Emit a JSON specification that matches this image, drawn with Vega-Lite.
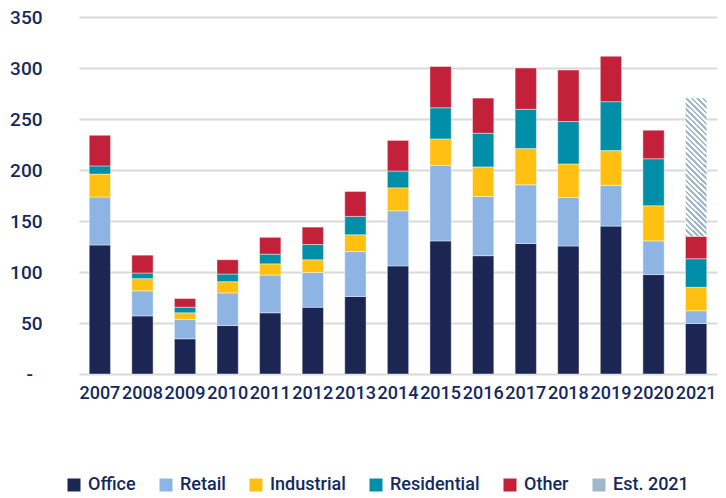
{
  "$schema": "https://vega.github.io/schema/vega-lite/v6.json",
  "width": 638,
  "height": 357,
  "autosize": {"type": "none"},
  "padding": {"left": 79, "top": 17, "right": 9, "bottom": 124},
  "background": "#ffffff",
  "config": {
    "font": "Roboto",
    "view": {"stroke": null},
    "axis": {"labelColor": "#14295e", "labelFont": "Roboto", "labelFontWeight": 500, "domain": false, "ticks": false, "tickSize": 0, "title": null},
    "legend": {"labelColor": "#14295e", "labelFont": "Roboto", "labelFontWeight": 500}
  },
  "data": {"values": [
    {"year":"2007","type":"Office","v":126.5,"k":1},{"year":"2007","type":"Retail","v":47,"k":2},{"year":"2007","type":"Industrial","v":22.5,"k":3},{"year":"2007","type":"Residential","v":8,"k":4},{"year":"2007","type":"Other","v":30,"k":5},
    {"year":"2008","type":"Office","v":57,"k":1},{"year":"2008","type":"Retail","v":24.5,"k":2},{"year":"2008","type":"Industrial","v":12,"k":3},{"year":"2008","type":"Residential","v":5.5,"k":4},{"year":"2008","type":"Other","v":17.5,"k":5},
    {"year":"2009","type":"Office","v":34.5,"k":1},{"year":"2009","type":"Retail","v":19,"k":2},{"year":"2009","type":"Industrial","v":6.5,"k":3},{"year":"2009","type":"Residential","v":5.5,"k":4},{"year":"2009","type":"Other","v":8.5,"k":5},
    {"year":"2010","type":"Office","v":47.5,"k":1},{"year":"2010","type":"Retail","v":32,"k":2},{"year":"2010","type":"Industrial","v":11,"k":3},{"year":"2010","type":"Residential","v":7.5,"k":4},{"year":"2010","type":"Other","v":14,"k":5},
    {"year":"2011","type":"Office","v":60,"k":1},{"year":"2011","type":"Retail","v":37,"k":2},{"year":"2011","type":"Industrial","v":11,"k":3},{"year":"2011","type":"Residential","v":9.5,"k":4},{"year":"2011","type":"Other","v":16.5,"k":5},
    {"year":"2012","type":"Office","v":65.5,"k":1},{"year":"2012","type":"Retail","v":34,"k":2},{"year":"2012","type":"Industrial","v":12.5,"k":3},{"year":"2012","type":"Residential","v":15,"k":4},{"year":"2012","type":"Other","v":17,"k":5},
    {"year":"2013","type":"Office","v":76,"k":1},{"year":"2013","type":"Retail","v":44,"k":2},{"year":"2013","type":"Industrial","v":16.5,"k":3},{"year":"2013","type":"Residential","v":18,"k":4},{"year":"2013","type":"Other","v":24.5,"k":5},
    {"year":"2014","type":"Office","v":106,"k":1},{"year":"2014","type":"Retail","v":54,"k":2},{"year":"2014","type":"Industrial","v":22.5,"k":3},{"year":"2014","type":"Residential","v":16.5,"k":4},{"year":"2014","type":"Other","v":30,"k":5},
    {"year":"2015","type":"Office","v":130.5,"k":1},{"year":"2015","type":"Retail","v":74,"k":2},{"year":"2015","type":"Industrial","v":26,"k":3},{"year":"2015","type":"Residential","v":30.5,"k":4},{"year":"2015","type":"Other","v":40.5,"k":5},
    {"year":"2016","type":"Office","v":116,"k":1},{"year":"2016","type":"Retail","v":58,"k":2},{"year":"2016","type":"Industrial","v":29,"k":3},{"year":"2016","type":"Residential","v":33,"k":4},{"year":"2016","type":"Other","v":34.5,"k":5},
    {"year":"2017","type":"Office","v":128,"k":1},{"year":"2017","type":"Retail","v":57.5,"k":2},{"year":"2017","type":"Industrial","v":35.5,"k":3},{"year":"2017","type":"Residential","v":38.5,"k":4},{"year":"2017","type":"Other","v":40.5,"k":5},
    {"year":"2018","type":"Office","v":125.5,"k":1},{"year":"2018","type":"Retail","v":47.5,"k":2},{"year":"2018","type":"Industrial","v":33,"k":3},{"year":"2018","type":"Residential","v":41.5,"k":4},{"year":"2018","type":"Other","v":50.5,"k":5},
    {"year":"2019","type":"Office","v":145,"k":1},{"year":"2019","type":"Retail","v":40,"k":2},{"year":"2019","type":"Industrial","v":34,"k":3},{"year":"2019","type":"Residential","v":48,"k":4},{"year":"2019","type":"Other","v":44.5,"k":5},
    {"year":"2020","type":"Office","v":97.5,"k":1},{"year":"2020","type":"Retail","v":33,"k":2},{"year":"2020","type":"Industrial","v":34.5,"k":3},{"year":"2020","type":"Residential","v":46,"k":4},{"year":"2020","type":"Other","v":28,"k":5},
    {"year":"2021","type":"Office","v":49.5,"k":1},{"year":"2021","type":"Retail","v":12.5,"k":2},{"year":"2021","type":"Industrial","v":23,"k":3},{"year":"2021","type":"Residential","v":28,"k":4},{"year":"2021","type":"Other","v":22,"k":5},{"year":"2021","type":"Est. 2021","v":135.5,"k":6}
  ]},
  "mark": {"type": "bar", "stroke": "#ffffff", "strokeWidth": 0.6, "strokeOpacity": 0.7},
  "encoding": {
    "x": {"field": "year", "type": "nominal", "sort": null,
      "scale": {"paddingInner": 0.5, "paddingOuter": 0.24},
      "axis": {"labelAngle": 0, "labelFontSize": 18, "labelPadding": 10}},
    "y": {"field": "v", "type": "quantitative", "stack": "zero",
      "scale": {"domain": [0, 350], "nice": false},
      "axis": {"values": [0, 50, 100, 150, 200, 250, 300, 350], "labelFontSize": 19, "labelPadding": 37,
        "gridColor": "#d9d9d9", "gridWidth": 2,
        "labelExpr": "datum.value === 0 ? '-\u00a0\u00a0\u2060' : datum.label"}},
    "order": {"field": "k", "type": "quantitative", "sort": "ascending"},
    "color": {
      "condition": {"test": "datum.type === 'Est. 2021'", "value": {"gradient": "linear", "x1": 0, "y1": 1, "x2": 0.1714, "y2": -0.126, "stops": [
        {"offset":0,"color":"#9fb8cc"},{"offset":0.01724,"color":"#9fb8cc"},{"offset":0.01724,"color":"#fff"},{"offset":0.03448,"color":"#fff"},
        {"offset":0.03448,"color":"#9fb8cc"},{"offset":0.05172,"color":"#9fb8cc"},{"offset":0.05172,"color":"#fff"},{"offset":0.06897,"color":"#fff"},
        {"offset":0.06897,"color":"#9fb8cc"},{"offset":0.08621,"color":"#9fb8cc"},{"offset":0.08621,"color":"#fff"},{"offset":0.10345,"color":"#fff"},
        {"offset":0.10345,"color":"#9fb8cc"},{"offset":0.12069,"color":"#9fb8cc"},{"offset":0.12069,"color":"#fff"},{"offset":0.13793,"color":"#fff"},
        {"offset":0.13793,"color":"#9fb8cc"},{"offset":0.15517,"color":"#9fb8cc"},{"offset":0.15517,"color":"#fff"},{"offset":0.17241,"color":"#fff"},
        {"offset":0.17241,"color":"#9fb8cc"},{"offset":0.18966,"color":"#9fb8cc"},{"offset":0.18966,"color":"#fff"},{"offset":0.2069,"color":"#fff"},
        {"offset":0.2069,"color":"#9fb8cc"},{"offset":0.22414,"color":"#9fb8cc"},{"offset":0.22414,"color":"#fff"},{"offset":0.24138,"color":"#fff"},
        {"offset":0.24138,"color":"#9fb8cc"},{"offset":0.25862,"color":"#9fb8cc"},{"offset":0.25862,"color":"#fff"},{"offset":0.27586,"color":"#fff"},
        {"offset":0.27586,"color":"#9fb8cc"},{"offset":0.2931,"color":"#9fb8cc"},{"offset":0.2931,"color":"#fff"},{"offset":0.31034,"color":"#fff"},
        {"offset":0.31034,"color":"#9fb8cc"},{"offset":0.32759,"color":"#9fb8cc"},{"offset":0.32759,"color":"#fff"},{"offset":0.34483,"color":"#fff"},
        {"offset":0.34483,"color":"#9fb8cc"},{"offset":0.36207,"color":"#9fb8cc"},{"offset":0.36207,"color":"#fff"},{"offset":0.37931,"color":"#fff"},
        {"offset":0.37931,"color":"#9fb8cc"},{"offset":0.39655,"color":"#9fb8cc"},{"offset":0.39655,"color":"#fff"},{"offset":0.41379,"color":"#fff"},
        {"offset":0.41379,"color":"#9fb8cc"},{"offset":0.43103,"color":"#9fb8cc"},{"offset":0.43103,"color":"#fff"},{"offset":0.44828,"color":"#fff"},
        {"offset":0.44828,"color":"#9fb8cc"},{"offset":0.46552,"color":"#9fb8cc"},{"offset":0.46552,"color":"#fff"},{"offset":0.48276,"color":"#fff"},
        {"offset":0.48276,"color":"#9fb8cc"},{"offset":0.5,"color":"#9fb8cc"},{"offset":0.5,"color":"#fff"},{"offset":0.51724,"color":"#fff"},
        {"offset":0.51724,"color":"#9fb8cc"},{"offset":0.53448,"color":"#9fb8cc"},{"offset":0.53448,"color":"#fff"},{"offset":0.55172,"color":"#fff"},
        {"offset":0.55172,"color":"#9fb8cc"},{"offset":0.56897,"color":"#9fb8cc"},{"offset":0.56897,"color":"#fff"},{"offset":0.58621,"color":"#fff"},
        {"offset":0.58621,"color":"#9fb8cc"},{"offset":0.60345,"color":"#9fb8cc"},{"offset":0.60345,"color":"#fff"},{"offset":0.62069,"color":"#fff"},
        {"offset":0.62069,"color":"#9fb8cc"},{"offset":0.63793,"color":"#9fb8cc"},{"offset":0.63793,"color":"#fff"},{"offset":0.65517,"color":"#fff"},
        {"offset":0.65517,"color":"#9fb8cc"},{"offset":0.67241,"color":"#9fb8cc"},{"offset":0.67241,"color":"#fff"},{"offset":0.68966,"color":"#fff"},
        {"offset":0.68966,"color":"#9fb8cc"},{"offset":0.7069,"color":"#9fb8cc"},{"offset":0.7069,"color":"#fff"},{"offset":0.72414,"color":"#fff"},
        {"offset":0.72414,"color":"#9fb8cc"},{"offset":0.74138,"color":"#9fb8cc"},{"offset":0.74138,"color":"#fff"},{"offset":0.75862,"color":"#fff"},
        {"offset":0.75862,"color":"#9fb8cc"},{"offset":0.77586,"color":"#9fb8cc"},{"offset":0.77586,"color":"#fff"},{"offset":0.7931,"color":"#fff"},
        {"offset":0.7931,"color":"#9fb8cc"},{"offset":0.81034,"color":"#9fb8cc"},{"offset":0.81034,"color":"#fff"},{"offset":0.82759,"color":"#fff"},
        {"offset":0.82759,"color":"#9fb8cc"},{"offset":0.84483,"color":"#9fb8cc"},{"offset":0.84483,"color":"#fff"},{"offset":0.86207,"color":"#fff"},
        {"offset":0.86207,"color":"#9fb8cc"},{"offset":0.87931,"color":"#9fb8cc"},{"offset":0.87931,"color":"#fff"},{"offset":0.89655,"color":"#fff"},
        {"offset":0.89655,"color":"#9fb8cc"},{"offset":0.91379,"color":"#9fb8cc"},{"offset":0.91379,"color":"#fff"},{"offset":0.93103,"color":"#fff"},
        {"offset":0.93103,"color":"#9fb8cc"},{"offset":0.94828,"color":"#9fb8cc"},{"offset":0.94828,"color":"#fff"},{"offset":0.96552,"color":"#fff"},
        {"offset":0.96552,"color":"#9fb8cc"},{"offset":0.98276,"color":"#9fb8cc"},{"offset":0.98276,"color":"#fff"},{"offset":1,"color":"#fff"}
      ]}},
      "field": "type", "type": "nominal",
      "scale": {"domain": ["Office", "Retail", "Industrial", "Residential", "Other", "Est. 2021"],
                "range": ["#1c2652", "#8eb4e3", "#ffc012", "#008ea8", "#c3213a", "#9fb8cc"]},
      "legend": {"title": null, "orient": "none", "direction": "horizontal", "legendX": -14, "legendY": 459,
        "symbolType": "square", "symbolSize": 169, "symbolStrokeWidth": 0, "labelFontSize": 18, "labelOffset": 5,
        "columnPadding": 21, "padding": 0}
    }
  }
}
